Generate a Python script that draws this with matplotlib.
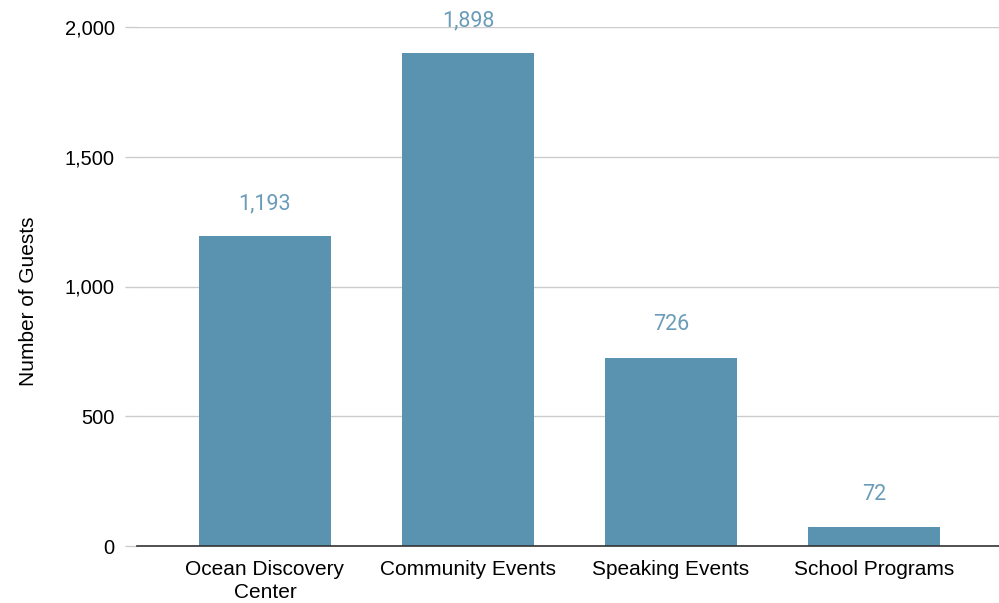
import matplotlib.pyplot as plt
from matplotlib.ticker import FuncFormatter

categories = ['Ocean Discovery\nCenter', 'Community Events', 'Speaking Events', 'School Programs']
guests = [1193, 1898, 726, 72]
y_ticks = [0, 500, 1000, 1500, 2000]

BAR_COLOR = '#5a93b0'
LABEL_COLOR = '#6a9cba'

fig = plt.figure(figsize=(9.99, 6.03), dpi=100)
ax = fig.add_axes([137 / 999, 57 / 603, 862 / 999, 519 / 603])

x = list(range(len(categories)))
ax.bar(x, guests, width=0.65, color=BAR_COLOR, zorder=3)

# value labels above each bar
for xi, v in zip(x, guests):
    ax.annotate(f'{v:,}', xy=(xi, v), xytext=(0, 23.5), textcoords='offset points',
                ha='center', va='center', fontsize=15.5, color=LABEL_COLOR,
                family='Roboto')

ax.set_xlim(-0.63, 3.616)
ax.set_ylim(0, 2000)
ax.set_yticks(y_ticks)
ax.yaxis.set_major_formatter(FuncFormatter(lambda v, p: f'{int(v):,}'))
ax.set_xticks(x)
ax.set_xticklabels(categories, fontsize=15, family='Liberation Sans', linespacing=1.3)
for lab in ax.get_yticklabels():
    lab.set_family('Liberation Sans')
    lab.set_fontsize(14.5)

ax.grid(axis='y', color='#cccccc', linewidth=1, zorder=0)
ax.tick_params(axis='y', length=9, width=1, color='#cccccc', pad=7)
ax.tick_params(axis='x', length=0, pad=10)

for side in ['top', 'right', 'left']:
    ax.spines[side].set_visible(False)
ax.spines['bottom'].set_color('#333333')
ax.spines['bottom'].set_linewidth(1.2)
ax.spines['bottom'].set_zorder(4)

ax.set_ylabel('Number of Guests', fontsize=15, family='Liberation Sans')
# centred on the whole figure height, like the original
ax.yaxis.set_label_coords(-99 / 862, (301.5 - 57) / 519)

fig.savefig('out.png', dpi=100)
